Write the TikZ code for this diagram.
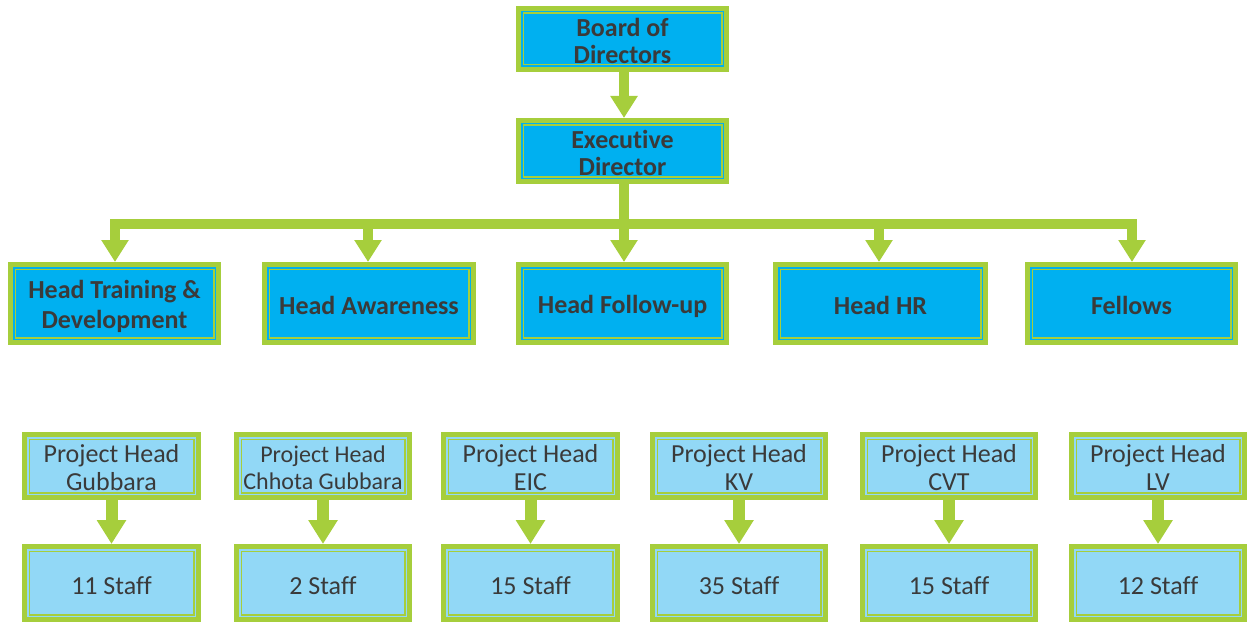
\documentclass[tikz,border=0pt]{standalone}
\usepackage{fontspec}
\setmainfont[Ligatures=NoCommon]{Carlito}
\usetikzlibrary{arrows.meta}
\definecolor{grn}{HTML}{A6CE3C}
\definecolor{bl}{HTML}{00B0F0}
\definecolor{lbl}{HTML}{92D8F6}
\definecolor{txt}{HTML}{3A3A3A}
% #1: how far the text is moved down
\newcommand{\Tx}[2][6pt]{\raisebox{0pt}[\height][\dimexpr\depth-#1-#1\relax]{\begin{tabular}{@{}c@{}}#2\end{tabular}}}
\newcommand{\Tl}[2][6pt]{\raisebox{0pt}[\dimexpr\height+#1+#1\relax][\depth]{\begin{tabular}{@{}c@{}}#2\end{tabular}}}
\tikzset{
  box/.style={draw=grn, line width=5pt, inner sep=0pt, text=txt,
    path picture={\draw[grn, line width=1.2pt]
      ([shift={(4.6pt,-4.6pt)}]path picture bounding box.north west) rectangle
      ([shift={(-4.6pt,4.6pt)}]path picture bounding box.south east);}},
  topbox/.style={box, fill=bl, font=\bfseries\fontsize{26}{27}\selectfont},
  projbox/.style={box, fill=lbl, font=\fontsize{26}{28}\selectfont, minimum height=63pt},
  staffbox/.style={box, fill=lbl, font=\fontsize{26}{28}\selectfont, minimum height=73pt},
  conn/.style={grn, line width=10.5pt, line join=miter},
  arr/.style={conn, -{Triangle[width=26pt,length=22pt]}},
  arrb/.style={grn, line width=12pt, -{Triangle[width=28pt,length=24pt]}},
}
\begin{document}
\begin{tikzpicture}[x=1pt,y=-1pt]
\useasboundingbox (0,0) rectangle (1253,623);
% top
\node[topbox, minimum width=208pt, minimum height=61pt] (board) at (622.5,39) {\Tx{Board of\\Directors}};
\node[topbox, minimum width=208pt, minimum height=61pt] (exec) at (622.5,151) {\Tx{Executive\\Director}};
% heads
\node[topbox, minimum width=208pt, minimum height=78pt, font=\bfseries\fontsize{26}{30}\selectfont] (h1) at (114.5,303.5) {\Tx[4pt]{Head Training \&\\Development}};
\node[topbox, minimum width=209pt, minimum height=78pt] (h2) at (369,303.5) {\Tl{Head Awareness}};
\node[topbox, minimum width=208pt, minimum height=78pt] (h3) at (622.5,303.5) {\Tl[5pt]{Head Follow-up}};
\node[topbox, minimum width=210pt, minimum height=78pt] (h4) at (880.5,303.5) {\Tl{Head HR}};
\node[topbox, minimum width=208pt, minimum height=78pt] (h5) at (1131.5,303.5) {\Tl{Fellows}};
% projects
\node[projbox, minimum width=174pt] (p1) at (111.5,466) {\Tx[5pt]{Project Head\\Gubbara}};
\node[projbox, minimum width=173pt, font=\fontsize{24}{27}\selectfont] (p2) at (323,466) {\Tx[5pt]{Project Head\\Chhota Gubbara}};
\node[projbox, minimum width=174pt] (p3) at (530.5,466) {\Tx[5pt]{Project Head\\EIC}};
\node[projbox, minimum width=173pt] (p4) at (739,466) {\Tx[5pt]{Project Head\\KV}};
\node[projbox, minimum width=173pt] (p5) at (949,466) {\Tx[5pt]{Project Head\\CVT}};
\node[projbox, minimum width=173pt] (p6) at (1158,466) {\Tx[5pt]{Project Head\\LV}};
% staff
\node[staffbox, minimum width=174pt] (s1) at (111.5,583) {\Tl{11 Staff}};
\node[staffbox, minimum width=173pt] (s2) at (323,583) {\Tl{2 Staff}};
\node[staffbox, minimum width=174pt] (s3) at (530.5,583) {\Tl{15 Staff}};
\node[staffbox, minimum width=173pt] (s4) at (739,583) {\Tl{35 Staff}};
\node[staffbox, minimum width=173pt] (s5) at (949,583) {\Tl{15 Staff}};
\node[staffbox, minimum width=173pt] (s6) at (1158,583) {\Tl{12 Staff}};
% connectors
\coordinate (bar) at (0,224);
\coordinate (d1) at (115,0);
\coordinate (d2) at (368,0);
\coordinate (d3) at (624,0);
\coordinate (d4) at (879,0);
\coordinate (d5) at (1132,0);
\draw[arr] ([xshift=1.5pt]board.south) ++(0,-2.5) -- ([xshift=1.5pt]exec.north);
\draw[conn] ([xshift=1.5pt]exec.south) -- (d3 |- bar);
\draw[conn, {Triangle[width=26pt,length=22pt]}-{Triangle[width=26pt,length=22pt]}]
  (d1 |- h1.north) -- (d1 |- bar) -- (d5 |- bar) -- (d5 |- h5.north);
\draw[arr] (d2 |- bar) -- (d2 |- h2.north);
\draw[arr] (d3 |- bar) -- (d3 |- h3.north);
\draw[arr] (d4 |- bar) -- (d4 |- h4.north);
\foreach \i in {1,...,6}{
  \draw[arrb] (p\i.south) -- (s\i.north);
}
\end{tikzpicture}
\end{document}
